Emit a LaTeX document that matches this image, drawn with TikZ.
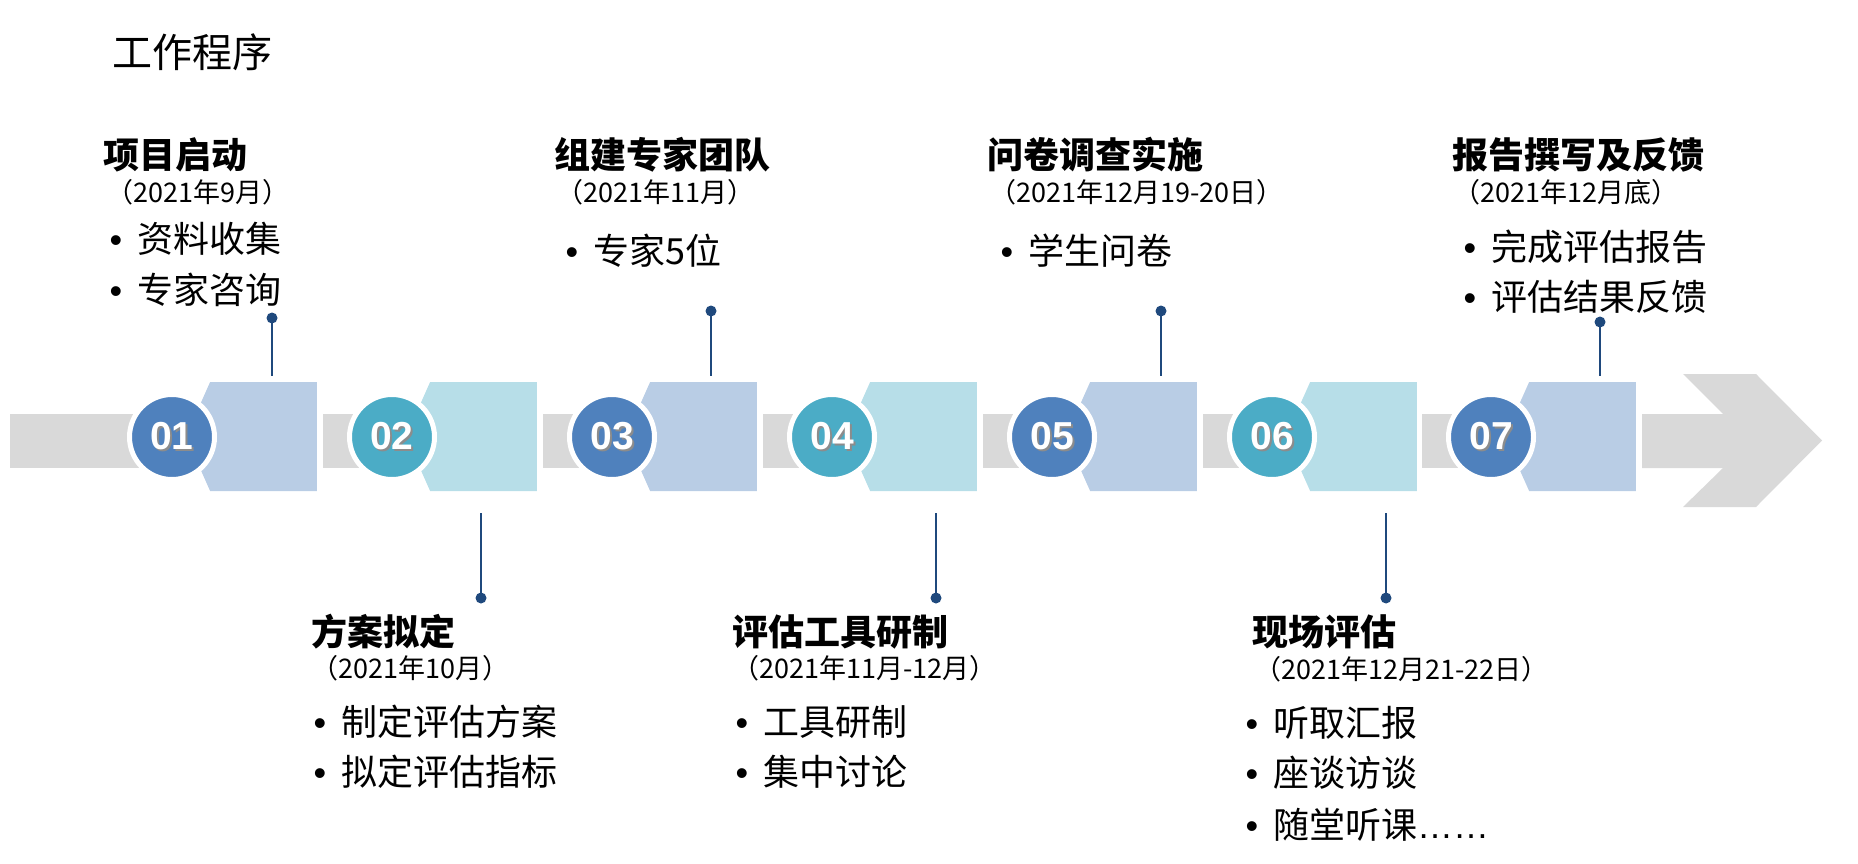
\documentclass[tikz,border=0pt]{standalone}
\usepackage{fontspec}
\setmainfont{Noto Sans CJK SC}
\newfontfamily\latinfont{Liberation Sans}
\usetikzlibrary{shapes.symbols, positioning, calc}

\definecolor{stepblue}{HTML}{4F81BD}
\definecolor{stepteal}{HTML}{4BACC6}
\definecolor{boxblue}{HTML}{B9CDE5}
\definecolor{boxteal}{HTML}{B7DEE8}
\definecolor{bargray}{HTML}{D9D9D9}
\definecolor{linkblue}{HTML}{1F497D}

\newcommand{\stepnum}[1]{\makebox[0pt][l]{\raisebox{-2pt}{\hspace{2pt}\textcolor{black!45}{#1}}}#1}
\newcommand{\bul}{\llap{\latinfont •\hspace{15pt}}}

\begin{document}
\begin{tikzpicture}[x=1pt, y=-1pt]
    \tikzstyle{numcircle}=[circle, draw=white, line width=5pt, minimum size=85pt, inner sep=0pt, text=white, font=\latinfont\bfseries\fontsize{39}{39}\selectfont]
    \tikzstyle{stepbox}=[signal, signal to=west, signal pointer angle=132, minimum width=131pt, minimum height=109pt, inner sep=0pt]
    \tikzstyle{titletext}=[anchor=base west, inner sep=0pt, font=\fontsize{40}{40}\selectfont]
    \tikzstyle{headtext}=[anchor=base west, inner sep=0pt, font=\bfseries\fontsize{36}{36}\selectfont]
    \tikzstyle{datetext}=[anchor=base west, inner sep=0pt, font=\fontsize{27}{27}\selectfont]
    \tikzstyle{itemtext}=[anchor=base west, inner sep=0pt, font=\fontsize{36}{36}\selectfont]
    \tikzstyle{linkdot}=[circle, fill=linkblue, minimum size=11pt, inner sep=0pt]
    \tikzstyle{linkline}=[draw=linkblue, line width=2pt]

    \useasboundingbox (0,0) rectangle (1858,864);

    \node[titletext] (title) at (112,67.5) {工作程序};

    \fill[bargray] (10,414) rectangle (172,468);
    \fill[bargray] (323,414) rectangle (392,468);
    \fill[bargray] (543,414) rectangle (612,468);
    \fill[bargray] (763,414) rectangle (832,468);
    \fill[bargray] (983,414) rectangle (1052,468);
    \fill[bargray] (1203,414) rectangle (1272,468);
    \fill[bargray] (1422,414) rectangle (1491,468);
    \fill[bargray] (1642,414) -- (1723,414) -- (1683,374) -- (1756,374) -- (1822,440.5)
        -- (1756,507) -- (1683,507) -- (1723,468) -- (1642,468) -- cycle;

    \node[stepbox, fill=boxblue] (boxA) at (263.5,436.5) {};
    \node[stepbox, fill=boxteal] (boxB) at (483.5,436.5) {};
    \node[stepbox, fill=boxblue] (boxC) at (703.5,436.5) {};
    \node[stepbox, fill=boxteal] (boxD) at (923.5,436.5) {};
    \node[stepbox, fill=boxblue] (boxE) at (1143.5,436.5) {};
    \node[stepbox, fill=boxteal] (boxF) at (1363.5,436.5) {};
    \node[stepbox, fill=boxblue] (boxG) at (1582.5,436.5) {};

    \node[numcircle, fill=stepblue] (stepA) at (172,437) {\stepnum{01}};
    \node[numcircle, fill=stepteal] (stepB) at (392,437) {\stepnum{02}};
    \node[numcircle, fill=stepblue] (stepC) at (612,437) {\stepnum{03}};
    \node[numcircle, fill=stepteal] (stepD) at (832,437) {\stepnum{04}};
    \node[numcircle, fill=stepblue] (stepE) at (1052,437) {\stepnum{05}};
    \node[numcircle, fill=stepteal] (stepF) at (1272,437) {\stepnum{06}};
    \node[numcircle, fill=stepblue] (stepG) at (1491,437) {\stepnum{07}};

    \node[linkdot] (dotA) at (272,318) {};
    \node[linkdot] (dotB) at (481,598) {};
    \node[linkdot] (dotC) at (711,311) {};
    \node[linkdot] (dotD) at (936,598) {};
    \node[linkdot] (dotE) at (1161,311) {};
    \node[linkdot] (dotF) at (1386,598) {};
    \node[linkdot] (dotG) at (1600,322) {};

    \draw[linkline] (dotA.center) -- ($(dotA |- boxA.north)+(0,-6)$);
    \draw[linkline] (dotB.center) -- ($(dotB |- boxB.south)+(0,22)$);
    \draw[linkline] (dotC.center) -- ($(dotC |- boxC.north)+(0,-6)$);
    \draw[linkline] (dotD.center) -- ($(dotD |- boxD.south)+(0,22)$);
    \draw[linkline] (dotE.center) -- ($(dotE |- boxE.north)+(0,-6)$);
    \draw[linkline] (dotF.center) -- ($(dotF |- boxF.south)+(0,22)$);
    \draw[linkline] (dotG.center) -- ($(dotG |- boxG.north)+(0,-6)$);

    \node[headtext] (headA) at (103,168) {项目启动};
    \node[datetext] (dateA) at (106,202) {（2021年9月）};
    \node[itemtext] (itemA1) at (137,252) {\bul 资料收集};
    \node[itemtext] (itemA2) at (137,303) {\bul 专家咨询};

    \node[headtext] (headB) at (311,645) {方案拟定};
    \node[datetext] (dateB) at (311,678) {（2021年10月）};
    \node[itemtext] (itemB1) at (341,735) {\bul 制定评估方案};
    \node[itemtext] (itemB2) at (341,785) {\bul 拟定评估指标};

    \node[headtext] (headC) at (554,168) {组建专家团队};
    \node[datetext] (dateC) at (556,202) {（2021年11月）};
    \node[itemtext] (itemC1) at (593,264) {\bul 专家5位};

    \node[headtext] (headD) at (732,645) {评估工具研制};
    \node[datetext] (dateD) at (732,678) {（2021年11月-12月）};
    \node[itemtext] (itemD1) at (763,735) {\bul 工具研制};
    \node[itemtext] (itemD2) at (763,785) {\bul 集中讨论};

    \node[headtext] (headE) at (987,168) {问卷调查实施};
    \node[datetext] (dateE) at (989,202) {（2021年12月19-20日）};
    \node[itemtext] (itemE1) at (1028,264) {\bul 学生问卷};

    \node[headtext] (headF) at (1252,645) {现场评估};
    \node[datetext] (dateF) at (1254,679) {（2021年12月21-22日）};
    \node[itemtext] (itemF1) at (1273,736) {\bul 听取汇报};
    \node[itemtext] (itemF2) at (1273,786) {\bul 座谈访谈};
    \node[itemtext] (itemF3) at (1273,838) {\bul 随堂听课{\latinfont ……}};

    \node[headtext] (headG) at (1452,168) {报告撰写及反馈};
    \node[datetext] (dateG) at (1453,202) {（2021年12月底）};
    \node[itemtext] (itemG1) at (1491,260) {\bul 完成评估报告};
    \node[itemtext] (itemG2) at (1491,310) {\bul 评估结果反馈};
\end{tikzpicture}
\end{document}
